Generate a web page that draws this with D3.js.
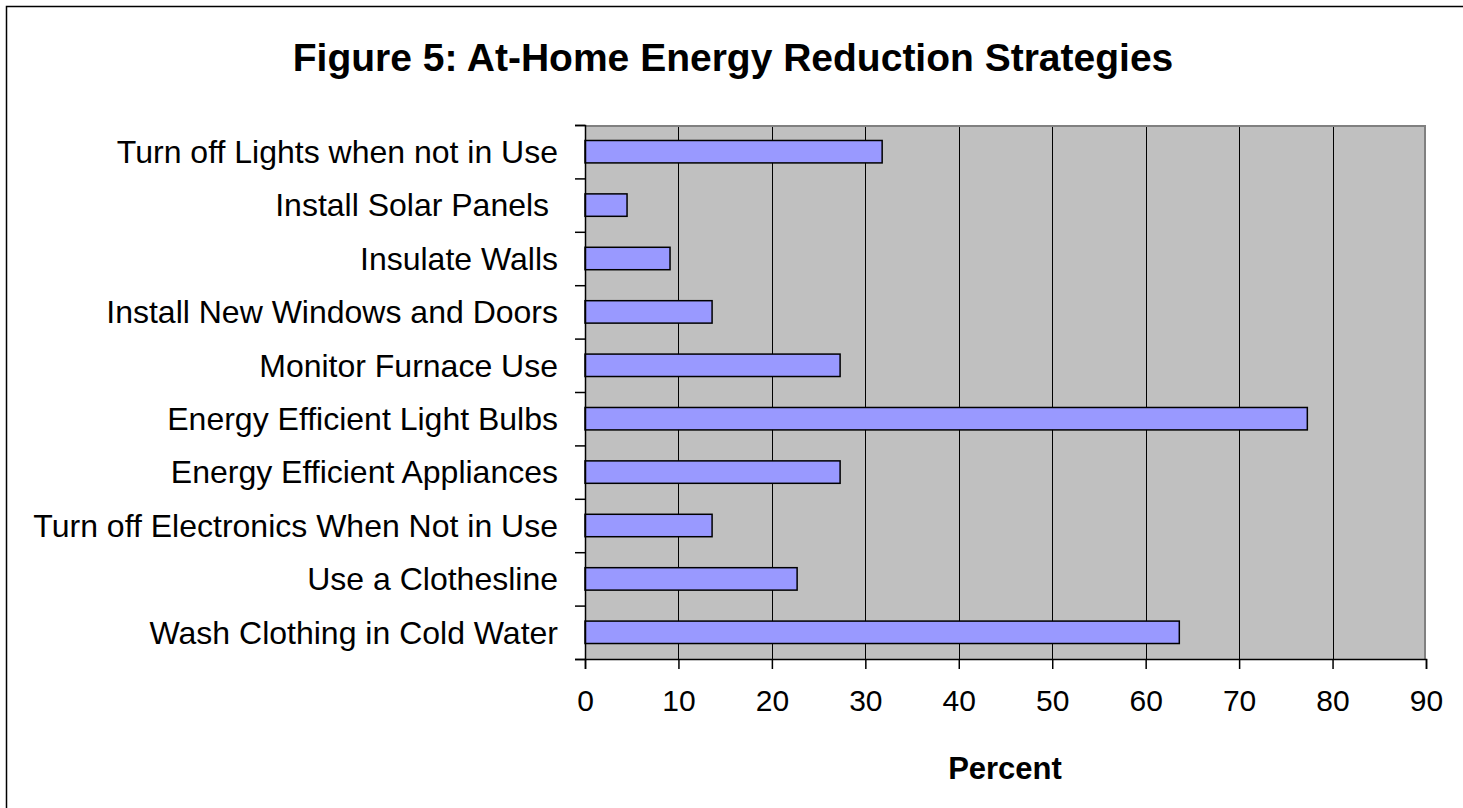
<!DOCTYPE html>
<html>
<head>
<meta charset="utf-8">
<script src="https://cdn.jsdelivr.net/npm/d3@7"></script>
<style>
  body { margin: 0; background: #fff; }
  svg { display: block; font-family: Arial, "Liberation Sans", sans-serif; }
</style>
</head>
<body>
<svg id="chart"></svg>
<script>
var categories = [
  "Turn off Lights when not in Use",
  "Install Solar Panels ",
  "Insulate Walls",
  "Install New Windows and Doors",
  "Monitor Furnace Use",
  "Energy Efficient Light Bulbs",
  "Energy Efficient Appliances",
  "Turn off Electronics When Not in Use",
  "Use a Clothesline",
  "Wash Clothing in Cold Water"
];
var percents = [31.8, 4.5, 9.1, 13.6, 27.3, 77.3, 27.3, 13.6, 22.7, 63.6];
var xTicks = [0, 10, 20, 30, 40, 50, 60, 70, 80, 90];

var svgWidth = 1463;
var svgHeight = 808;
var plotLeft = 585, plotRight = 1426, plotTop = 125, plotBottom = 659;

var svg = d3.select("#chart")
  .attr("width", svgWidth)
  .attr("height", svgHeight);

// outer frame (right/bottom edges run off the picture)
svg.append("rect")
  .attr("x", 6.5).attr("y", 6.5)
  .attr("width", 1480).attr("height", 830)
  .attr("fill", "#fff")
  .attr("stroke", "#000")
  .attr("stroke-width", 1.5);

var xScale = d3.scaleLinear()
  .domain([0, 90])
  .range([plotLeft, plotRight]);

var yScale = d3.scaleBand()
  .domain(categories)
  .range([plotTop, plotBottom])
  .paddingInner(0.58)
  .paddingOuter(0.29);

var yTickScale = d3.scaleLinear()
  .domain([0, categories.length])
  .range([plotTop, plotBottom]);

// plot background
svg.append("rect")
  .attr("x", plotLeft).attr("y", plotTop)
  .attr("width", plotRight - plotLeft)
  .attr("height", plotBottom - plotTop)
  .attr("fill", "#c0c0c0");

// gridlines
svg.append("g")
  .selectAll("line")
  .data(xTicks.slice(1, -1))
  .enter()
  .append("line")
  .attr("x1", function (d) { return Math.round(xScale(d)) + 0.5; })
  .attr("x2", function (d) { return Math.round(xScale(d)) + 0.5; })
  .attr("y1", plotTop)
  .attr("y2", plotBottom)
  .attr("stroke", "#000")
  .attr("stroke-width", 1);

// top and right plot border
svg.append("path")
  .attr("d", "M" + plotLeft + "," + (plotTop + 1) + "H" + (plotRight - 1) + "V" + plotBottom)
  .attr("fill", "none")
  .attr("stroke", "#808080")
  .attr("stroke-width", 2);

// bars
svg.append("g")
  .selectAll("rect")
  .data(percents)
  .enter()
  .append("rect")
  .attr("x", xScale(0))
  .attr("y", function (d, i) { return yScale(categories[i]); })
  .attr("width", function (d) { return xScale(d) - xScale(0); })
  .attr("height", yScale.bandwidth())
  .attr("fill", "#9999ff")
  .attr("stroke", "#000")
  .attr("stroke-width", 1.5);

// axes
var xAxis = d3.axisBottom(xScale)
  .tickValues(xTicks)
  .tickSize(10)
  .tickPadding(21);
var gx = svg.append("g")
  .attr("transform", "translate(0," + plotBottom + ")")
  .call(xAxis);
gx.attr("font-size", null).attr("font-family", null);
gx.selectAll("text").style("font-size", "30px").attr("fill", "#000");
gx.selectAll("line, path").attr("stroke", "#000").attr("stroke-width", 1.5);

var yAxis = d3.axisLeft(yTickScale)
  .tickValues(d3.range(categories.length + 1))
  .tickFormat("")
  .tickSize(10);
var gy = svg.append("g")
  .attr("transform", "translate(" + plotLeft + ",0)")
  .call(yAxis);
gy.selectAll("line, path").attr("stroke", "#000").attr("stroke-width", 1.5);

// category labels
svg.append("g")
  .selectAll("text")
  .data(categories)
  .enter()
  .append("text")
  .attr("x", 558)
  .attr("y", function (d) { return yScale(d) + yScale.bandwidth() / 2; })
  .attr("dy", "0.35em")
  .attr("text-anchor", "end")
  .style("font-size", "32px")
  .attr("fill", "#000")
  .style("white-space", "pre")
  .text(function (d) { return d; });

// title
svg.append("text")
  .attr("x", 733)
  .attr("y", 71)
  .attr("text-anchor", "middle")
  .style("font-size", "39px")
  .attr("font-weight", "bold")
  .text("Figure 5: At-Home Energy Reduction Strategies");

// x axis title
svg.append("text")
  .attr("x", 1005)
  .attr("y", 779)
  .attr("text-anchor", "middle")
  .style("font-size", "31px")
  .attr("font-weight", "bold")
  .text("Percent");
</script>
</body>
</html>
